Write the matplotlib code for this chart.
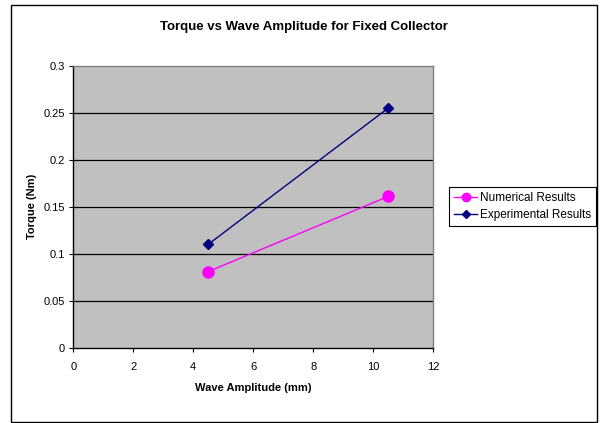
import matplotlib
matplotlib.use("Agg")
import matplotlib.pyplot as plt
from matplotlib.patches import Rectangle

plt.rcParams["font.family"] = ["Liberation Sans", "DejaVu Sans"]

# wave amplitude (mm) and measured / computed torque (Nm)
amplitude = [4.5, 10.5]
torque_numerical = [0.081, 0.161]
torque_experimental = [0.11, 0.255]

x_ticks = [0, 2, 4, 6, 8, 10, 12]
y_ticks = [0, 0.05, 0.1, 0.15, 0.2, 0.25, 0.3]
y_tick_labels = ["0", "0.05", "0.1", "0.15", "0.2", "0.25", "0.3"]

W, H = 601, 423
fig = plt.figure(figsize=(W / 100, H / 100), dpi=100)

# chart frame
fig.patches.append(Rectangle((11 / W, 1 - 422 / H), 586 / W, 417 / H,
                             transform=fig.transFigure, fill=False,
                             edgecolor="black", linewidth=1.0))

ax = fig.add_axes([73.3 / W, 1 - 347.7 / H, 360 / W, 282 / H])
ax.set_facecolor("#c0c0c0")

for y in y_ticks[1:-1]:
    ax.axhline(y, color="black", linewidth=0.9, zorder=1)

ax.plot(amplitude, torque_numerical, color="#ff00ff", linewidth=1.0,
        marker="o", markersize=8, label="Numerical Results", zorder=3)
ax.plot(amplitude, torque_experimental, color="#000080", linewidth=1.0,
        marker="D", markersize=5, label="Experimental Results", zorder=3)

ax.set_xlim(0, 12)
ax.set_ylim(0, 0.3)
ax.set_xticks(x_ticks)
ax.set_yticks(y_ticks)
ax.set_yticklabels(y_tick_labels)
ax.tick_params(labelsize=8, length=3, width=0.8, color="black")
ax.tick_params(axis="x", pad=7)
ax.tick_params(axis="y", pad=3)

for side in ("top", "right"):
    ax.spines[side].set_color("#808080")
    ax.spines[side].set_linewidth(1.0)
for side in ("left", "bottom"):
    ax.spines[side].set_color("black")
    ax.spines[side].set_linewidth(1.0)

ax.set_xlabel("Wave Amplitude (mm)", fontsize=8, fontweight="bold", labelpad=8)
ax.set_ylabel("Torque (Nm)", fontsize=8, fontweight="bold", labelpad=5)

fig.text(304 / W, 1 - 27 / H, "Torque vs Wave Amplitude for Fixed Collector",
         ha="center", va="center", fontsize=9.5, fontweight="bold")

leg = ax.legend(loc="center left", bbox_to_anchor=(449 / W, 1 - 206.5 / H),
                bbox_transform=fig.transFigure, fontsize=8.5, frameon=True,
                fancybox=False, edgecolor="black", framealpha=1,
                handlelength=2.0, handletextpad=0.2, borderpad=0.4,
                labelspacing=0.45, borderaxespad=0, markerscale=0.75)
leg.get_frame().set_linewidth(0.8)

fig.savefig("out.png", dpi=100)
